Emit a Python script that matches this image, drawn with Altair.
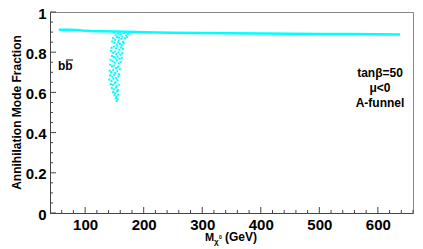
import altair as alt
import pandas as pd

# ---- data ----
band_m = [55, 70, 85, 95, 110, 130, 150, 170, 200, 250, 300, 350, 400, 450, 500, 550, 600, 638]
band_frac = [0.912, 0.912, 0.911, 0.908, 0.905, 0.904, 0.903, 0.902, 0.899, 0.897, 0.895,
             0.894, 0.893, 0.892, 0.891, 0.890, 0.889, 0.888]

funnel_m = [
    149.5, 152.3, 155.8, 158.1, 160.7, 163.4, 166.9, 170.2, 173.6, 177.1,
    147.8, 151.2, 154.6, 157.3, 161.9, 164.8, 168.3, 171.5,
    146.4, 150.1, 153.7, 156.2, 159.6, 162.8, 166.1, 148.9,
    145.2, 152.8, 155.1, 158.7, 161.4, 164.9,
    144.3, 147.6, 150.9, 153.4, 156.8, 160.2, 163.1,
    145.9, 149.3, 152.1, 155.5, 158.9, 162.4,
    143.4, 147.1, 150.6, 154.2, 157.6, 160.8,
    142.7, 145.8, 149.2, 152.7, 156.3, 159.4,
    141.9, 144.6, 148.1, 151.3, 154.8, 158.2,
    142.5, 146.2, 149.7, 153.1, 156.9,
    141.3, 144.9, 148.4, 151.8, 155.2,
    143.8, 147.3, 150.5, 153.9, 157.4,
    145.6, 149.1, 152.6, 156.1,
    147.9, 151.4, 154.7,
    150.2, 153.3, 156.4,
    152.4, 155.6, 154.1,
]
funnel_frac = [
    0.897, 0.884, 0.893, 0.872, 0.889, 0.878, 0.895, 0.883, 0.891, 0.898,
    0.871, 0.862, 0.875, 0.858, 0.866, 0.852, 0.869, 0.876,
    0.853, 0.846, 0.838, 0.849, 0.841, 0.834, 0.845, 0.828,
    0.822, 0.819, 0.829, 0.812, 0.823, 0.816,
    0.807, 0.798, 0.803, 0.791, 0.799, 0.787, 0.795,
    0.781, 0.776, 0.769, 0.778, 0.766, 0.772,
    0.762, 0.755, 0.748, 0.759, 0.744, 0.752,
    0.738, 0.729, 0.734, 0.721, 0.727, 0.715,
    0.708, 0.701, 0.712, 0.696, 0.705, 0.691,
    0.684, 0.678, 0.687, 0.672, 0.681,
    0.664, 0.657, 0.668, 0.651, 0.661,
    0.642, 0.636, 0.645, 0.631, 0.639,
    0.622, 0.615, 0.624, 0.611,
    0.602, 0.596, 0.605,
    0.586, 0.579, 0.588,
    0.571, 0.566, 0.558,
]

x_major = [100, 200, 300, 400, 500, 600]
x_minor = [60, 80, 120, 140, 160, 180, 220, 240, 260, 280, 320, 340, 360, 380,
           420, 440, 460, 480, 520, 540, 560, 580, 620, 640, 660]
y_major = [0.0, 0.2, 0.4, 0.6, 0.8, 1.0]
y_minor = [0.05, 0.1, 0.15, 0.25, 0.3, 0.35, 0.45, 0.5, 0.55, 0.65, 0.7, 0.75,
           0.85, 0.9, 0.95]

info_lines = ["tan\u03b2=50", "\u03bc<0", "A-funnel"]

FONT = "Liberation Sans"
CYAN = "#00ffff"
W, H = 363, 201

xs = alt.Scale(domain=[40, 660], nice=False, zero=False)
ys = alt.Scale(domain=[0, 1.0], nice=False, zero=False)

AX = dict(title=None, grid=False, ticks=False, tickSize=0,
          labelFont=FONT, labelFontWeight="bold", labelFontSize=15, labelColor="black",
          domainColor="#444", labelFlush=False)
AXX = alt.Axis(values=x_major, labelPadding=4, **AX)
AXY = alt.Axis(values=y_major, format="~g", labelPadding=4, labelOffset=1, **AX)

band = alt.Chart(pd.DataFrame({"m": band_m, "f": band_frac})).mark_line(
    color=CYAN, strokeWidth=2.5
).encode(
    x=alt.X("m:Q", scale=xs, axis=AXX),
    y=alt.Y("f:Q", scale=ys, axis=AXY),
)

funnel = alt.Chart(pd.DataFrame({"m": funnel_m, "f": funnel_frac})).mark_square(
    color=CYAN, size=4, opacity=1
).encode(
    x=alt.X("m:Q", scale=xs, axis=AXX),
    y=alt.Y("f:Q", scale=ys, axis=AXY),
)

xmaj = alt.Chart(pd.DataFrame({"v": x_major})).mark_rule(color="#444").encode(
    x=alt.X("v:Q", scale=xs, axis=AXX), y=alt.value(H), y2=alt.value(H - 6))
xmin = alt.Chart(pd.DataFrame({"v": x_minor})).mark_rule(color="#444").encode(
    x=alt.X("v:Q", scale=xs, axis=AXX), y=alt.value(H), y2=alt.value(H - 3))
ymaj = alt.Chart(pd.DataFrame({"v": y_major})).mark_rule(color="#444").encode(
    y=alt.Y("v:Q", scale=ys, axis=AXY), x=alt.value(0), x2=alt.value(6))
ymin = alt.Chart(pd.DataFrame({"v": y_minor})).mark_rule(color="#444").encode(
    y=alt.Y("v:Q", scale=ys, axis=AXY), x=alt.value(0), x2=alt.value(3))


def label(txt, x, y, size=12, align="left", angle=0, baseline="alphabetic"):
    kw = dict(font=FONT, fontWeight="bold", fontSize=size, align=align,
              baseline=baseline, color="black")
    if angle:
        kw["angle"] = angle
    return alt.Chart(pd.DataFrame({"t": [txt]})).mark_text(**kw).encode(
        text="t:N", x=alt.value(x), y=alt.value(y))


ytitle = label("Annihilation Mode Fraction", -33, H / 2, size=12, align="center",
               angle=270, baseline="middle")
xt_M = label("M", 155, 229, size=11)
xt_chi = label("\u03c7", 164, 232, size=8)
xt_0 = label("0", 169, 227, size=5)
xt_gev = label("(GeV)", 175, 229, size=12)

bb = label("bb", 8, 58, size=12)
bb_bar = alt.Chart(pd.DataFrame({"t": [1]})).mark_rule(color="black", strokeWidth=1).encode(
    x=alt.value(16), x2=alt.value(23), y=alt.value(48))

info = alt.layer(*[
    label(t, 330, 65 + 15 * i, size=12, align="center") for i, t in enumerate(info_lines)
])

chart = alt.layer(
    band, funnel, xmin, xmaj, ymin, ymaj, ytitle, xt_M, xt_chi, xt_0, xt_gev,
    bb, bb_bar, info
).properties(
    width=W, height=H,
    padding={"left": 42, "top": 4, "right": 2, "bottom": 36},
    autosize=alt.AutoSizeParams(type="none"),
).configure_view(stroke="#888", strokeWidth=1)

chart.save("out.html", embed_options={"renderer": "svg", "actions": False})
